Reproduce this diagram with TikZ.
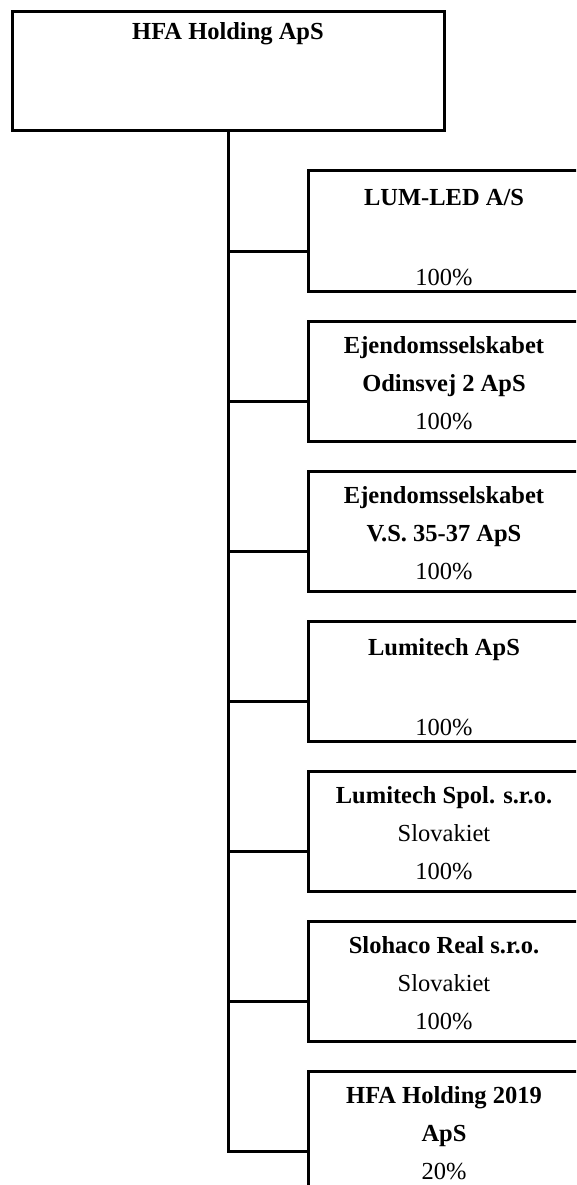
\documentclass[tikz,border=0pt]{standalone}
\usepackage{fontspec}
\setmainfont{Liberation Serif}
\usetikzlibrary{positioning}

\begin{document}
\begin{tikzpicture}[x=1pt, y=-1pt,
    every node/.style={font=\fontsize{24.5}{38}\selectfont},
    org/.style={draw, line width=3pt, rectangle, inner sep=0pt, align=center},
    sub/.style={org, minimum width=272pt, minimum height=120pt},
    tie/.style={line width=3pt}]
      \clip (0,0) rectangle (576,1185);
      \useasboundingbox (0,0) rectangle (576,1185);

      \node[org, minimum width=432pt, minimum height=119pt] (top) at (228,71.5)
        {\textbf{HFA Holding ApS}\\[-6pt] \strut\\ \strut};

      \node[sub] (c1) at (444,231) {\rule{0pt}{30pt}\textbf{LUM-LED A/S}\\[2pt] \strut\\[2pt] 100\%};
      \node[sub] (c2) at (444,381) {\rule{0pt}{21pt}\textbf{Ejendomsselskabet}\\ \textbf{Odinsvej 2 ApS}\\ 100\%};
      \node[sub] (c3) at (444,531) {\rule{0pt}{21pt}\textbf{Ejendomsselskabet}\\ \textbf{V.S. 35-37 ApS}\\ 100\%};
      \node[sub] (c4) at (444,681) {\rule{0pt}{30pt}\textbf{Lumitech ApS}\\[2pt] \strut\\[2pt] 100\%};
      \node[sub] (c5) at (444,831) {\rule{0pt}{21pt}\textbf{Lumitech Spol. s.r.o.}\\ Slovakiet\\ 100\%};
      \node[sub] (c6) at (444,981) {\rule{0pt}{21pt}\textbf{Slohaco Real s.r.o.}\\ Slovakiet\\ 100\%};
      \node[sub] (c7) at (444,1131) {\rule{0pt}{21pt}\textbf{HFA Holding 2019}\\ \textbf{ApS}\\ 20\%};

      % trunk and branches
      \foreach \c in {c1,c2,c3,c4,c5,c6,c7}
        \draw[tie] (top.south) |- ([yshift=-20pt]\c.west);
\end{tikzpicture}
\end{document}
